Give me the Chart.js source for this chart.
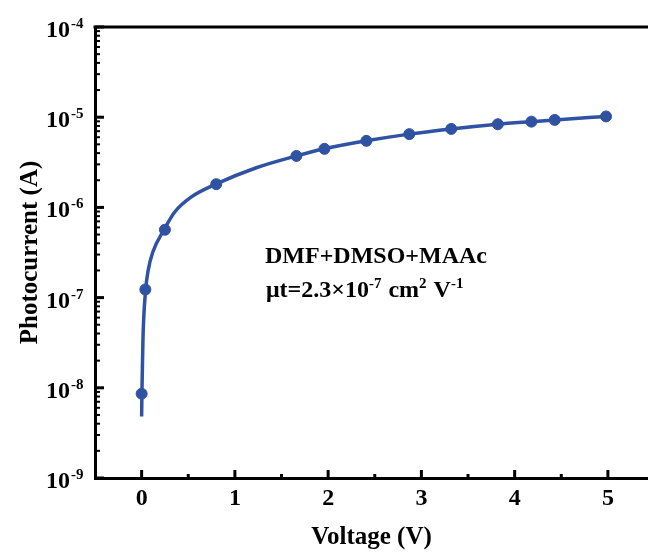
<!DOCTYPE html>
<html>
<head>
<meta charset="utf-8">
<script src="https://cdn.jsdelivr.net/npm/chart.js@4/dist/chart.umd.min.js"></script>
<style>
  html, body { margin: 0; padding: 0; background: #fff; overflow: hidden; }
</style>
</head>
<body>
<canvas id="chart" width="648" height="560"></canvas>
<script>
// measured points (V, A)
const voltage = [0, 0.04, 0.25, 0.80, 1.66, 1.96, 2.41, 2.87, 3.32, 3.82, 4.18, 4.43, 4.98];
const current = [8.6e-9, 1.23e-7, 5.65e-7, 1.81e-6, 3.72e-6, 4.46e-6, 5.47e-6, 6.49e-6, 7.41e-6, 8.36e-6, 8.93e-6, 9.33e-6, 1.02e-5];

// fit curve
const fitVoltage = [0, 0.003, 0.008, 0.015, 0.043, 0.07, 0.12, 0.24, 0.355, 0.53, 0.79, 1.23, 1.66, 1.96, 2.41, 2.87, 3.32, 3.82, 4.18, 4.43, 4.98];
const fitCurrent = [4.8e-9, 8.6e-9, 1.6e-8, 3.7e-8, 1.22e-7, 2.0e-7, 3.2e-7, 5.65e-7, 8.9e-7, 1.3e-6, 1.8e-6, 2.75e-6, 3.72e-6, 4.46e-6, 5.47e-6, 6.49e-6, 7.41e-6, 8.36e-6, 8.93e-6, 9.33e-6, 1.02e-5];

const xTicks = [0, 1, 2, 3, 4, 5];
const xMinorTicks = [0.5, 1.5, 2.5, 3.5, 4.5];
const yDecades = [-9, -8, -7, -6, -5, -4];

const blue = '#2f52a2';
const serif = '"Liberation Serif", "Times New Roman", serif';

const decorations = {
  id: 'decorations',
  afterDraw(chart) {
    const ctx = chart.ctx;
    const area = chart.chartArea;
    const xs = chart.scales.x;
    const ys = chart.scales.y;
    ctx.save();
    ctx.strokeStyle = '#000';
    ctx.fillStyle = '#000';

    // top frame line
    ctx.lineWidth = 3;
    ctx.beginPath();
    ctx.moveTo(area.left - 1.5, area.top);
    ctx.lineTo(chart.width, area.top);
    ctx.stroke();

    // x ticks, inward
    xTicks.forEach(v => {
      const px = xs.getPixelForValue(v);
      ctx.lineWidth = 3;
      ctx.beginPath();
      ctx.moveTo(px, area.bottom);
      ctx.lineTo(px, area.bottom - 8);
      ctx.stroke();
    });
    xMinorTicks.forEach(v => {
      const px = xs.getPixelForValue(v);
      ctx.lineWidth = 3;
      ctx.beginPath();
      ctx.moveTo(px, area.bottom);
      ctx.lineTo(px, area.bottom - 4);
      ctx.stroke();
    });

    // y ticks, inward, with minor log ticks
    yDecades.forEach(n => {
      const py = ys.getPixelForValue(Math.pow(10, n));
      ctx.lineWidth = 3;
      ctx.beginPath();
      ctx.moveTo(area.left, py);
      ctx.lineTo(area.left + 9, py);
      ctx.stroke();
      if (n < -4) {
        for (let m = 2; m <= 9; m++) {
          const pm = ys.getPixelForValue(m * Math.pow(10, n));
          ctx.lineWidth = 2;
          ctx.beginPath();
          ctx.moveTo(area.left, pm);
          ctx.lineTo(area.left + 5, pm);
          ctx.stroke();
        }
      }
      // label 10^n
      ctx.font = 'bold 24px ' + serif;
      ctx.textAlign = 'right';
      ctx.textBaseline = 'alphabetic';
      ctx.fillText('10', 70, py + 10);
      ctx.font = 'bold 15px ' + serif;
      ctx.textAlign = 'left';
      ctx.fillText(String(n), 71, py + 1);
    });

    // axis titles
    ctx.font = 'bold 25px ' + serif;
    ctx.textAlign = 'center';
    ctx.textBaseline = 'alphabetic';
    ctx.fillText('Voltage (V)', (area.left + chart.width) / 2, 544);
    ctx.save();
    ctx.translate(37, (area.top + area.bottom) / 2);
    ctx.rotate(-Math.PI / 2);
    ctx.fillText('Photocurrent (A)', 0, 0);
    ctx.restore();

    // annotation
    ctx.textAlign = 'left';
    ctx.font = 'bold 24px ' + serif;
    ctx.fillText('DMF+DMSO+MAAc', 265, 263);
    const parts = [
      ['\u03bct=2.3\u00d710', false],
      ['-7', true],
      [' cm', false],
      ['2', true],
      [' V', false],
      ['-1', true]
    ];
    let x = 266;
    const base = 297;
    parts.forEach(([t, sup]) => {
      ctx.font = (sup ? 'bold 15px ' : 'bold 24px ') + serif;
      ctx.fillText(t, x, sup ? base - 9 : base);
      x += ctx.measureText(t).width + (sup ? 1 : 0);
    });

    ctx.restore();
  }
};

new Chart(document.getElementById('chart'), {
  type: 'scatter',
  data: {
    datasets: [
      {
        type: 'line',
        label: 'fit',
        data: fitVoltage.map((v, i) => ({ x: v, y: fitCurrent[i] })),
        borderColor: blue,
        borderWidth: 3.5,
        pointRadius: 0,
        fill: false,
        cubicInterpolationMode: 'monotone'
      },
      {
        label: 'data',
        data: voltage.map((v, i) => ({ x: v, y: current[i] })),
        backgroundColor: blue,
        borderColor: blue,
        pointRadius: 5.5,
        pointHoverRadius: 5.5
      }
    ]
  },
  options: {
    responsive: false,
    animation: false,
    events: [],
    layout: { autoPadding: false, padding: { top: 27, right: 0, left: 0, bottom: 0 } },
    plugins: {
      legend: { display: false },
      tooltip: { enabled: false }
    },
    scales: {
      x: {
        type: 'linear',
        min: -0.5,
        max: 5.43,
        afterBuildTicks: scale => { scale.ticks = xTicks.map(v => ({ value: v })); },
        afterFit: scale => {
          scale.height = 82;
          scale.paddingLeft = 0;
          scale.paddingRight = 0;
        },
        grid: { drawOnChartArea: false, drawTicks: false },
        border: { display: true, width: 3, color: '#000' },
        ticks: {
          color: '#000',
          padding: 6,
          maxRotation: 0,
          font: { family: serif, size: 24, weight: 'bold' }
        }
      },
      y: {
        type: 'logarithmic',
        min: 1e-9,
        max: 1e-4,
        afterBuildTicks: scale => { scale.ticks = yDecades.map(n => ({ value: Math.pow(10, n) })); },
        afterFit: scale => {
          scale.width = 95;
          scale.paddingTop = 0;
          scale.paddingBottom = 0;
        },
        grid: { drawOnChartArea: false, drawTicks: false },
        border: { display: true, width: 3, color: '#000' },
        ticks: { display: false }
      }
    }
  },
  plugins: [decorations]
});
</script>
</body>
</html>
